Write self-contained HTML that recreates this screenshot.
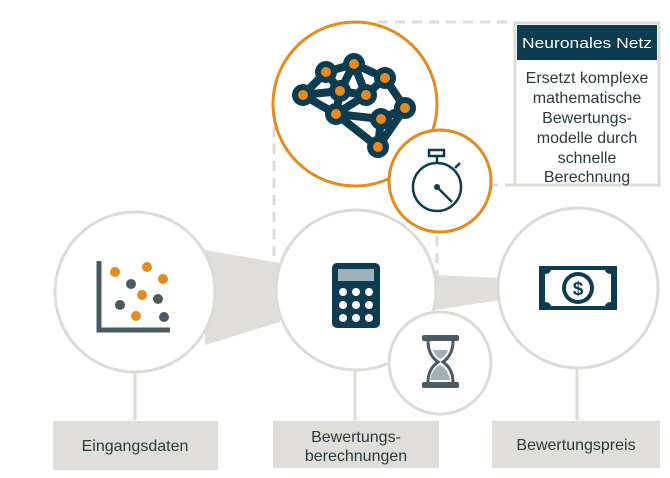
<!DOCTYPE html>
<html><head><meta charset="utf-8"><style>
html,body{margin:0;padding:0;background:#fff;width:670px;height:478px;overflow:hidden}
svg{display:block}
text{font-family:"Liberation Sans",sans-serif}
</style></head><body>
<svg width="670" height="478" viewBox="0 0 670 478">
<g stroke="#dcdcd6" stroke-width="3" stroke-dasharray="10,7" fill="none">
<line x1="378" y1="22" x2="515" y2="22"/>
<line x1="274" y1="127" x2="274" y2="262"/>
<line x1="437" y1="185" x2="515" y2="185"/>
<line x1="437" y1="185" x2="437" y2="275"/>
</g>
<polygon points="205,250 280,263 280,322 205,345" fill="#e0ded8"/>
<polygon points="435,275 500,278 500,300 435,310" fill="#e0ded8"/>
<g stroke="#dcdcd6" stroke-width="3">
<line x1="135" y1="368" x2="135" y2="420"/>
<line x1="355" y1="368" x2="355" y2="420"/>
<line x1="577" y1="366" x2="577" y2="420"/>
</g>
<g fill="#fff" stroke="#dcdcd6" stroke-width="3">
<circle cx="135" cy="292" r="80"/>
<circle cx="356" cy="290" r="80"/>
<circle cx="578" cy="288" r="80"/>
<circle cx="440" cy="363" r="51"/>
</g>
<circle cx="355" cy="104" r="82" fill="#fff" stroke="#e58a1f" stroke-width="3"/>
<circle cx="440" cy="181" r="51" fill="#fff" stroke="#e58a1f" stroke-width="3"/>
<rect x="515" y="23" width="144" height="162" fill="#fff" stroke="#dcdcd6" stroke-width="3"/>
<rect x="517" y="25" width="140" height="35" fill="#0d3b4f"/>
<text x="587" y="48" font-size="15" fill="#fff" text-anchor="middle" textLength="130" lengthAdjust="spacingAndGlyphs">Neuronales Netz</text>
<g font-size="16" fill="#2a3a42" text-anchor="middle">
<text x="587" y="83">Ersetzt komplexe</text>
<text x="587" y="103">mathematische</text>
<text x="587" y="123">Bewertungs-</text>
<text x="587" y="143">modelle durch</text>
<text x="587" y="163">schnelle</text>
<text x="587" y="182">Berechnung</text>
</g>
<rect x="53" y="421" width="165" height="49" fill="#e0ded8"/>
<rect x="273" y="421" width="166" height="47" fill="#e0ded8"/>
<rect x="492" y="421" width="168" height="47" fill="#e0ded8"/>
<g font-size="16" fill="#2a3a42" text-anchor="middle">
<text x="135" y="451">Eingangsdaten</text>
<text x="356" y="442">Bewertungs-</text>
<text x="356" y="461">berechnungen</text>
<text x="576" y="450">Bewertungspreis</text>
</g>
<path d="M99,261 V330 H170" stroke="#4a5a62" stroke-width="5" fill="none"/>
<g fill="#e58a1f"><circle cx="115" cy="272" r="5"/><circle cx="147" cy="267" r="5"/><circle cx="163" cy="279" r="5"/><circle cx="142" cy="295" r="5"/><circle cx="136" cy="316" r="5"/></g>
<g fill="#4a5a62"><circle cx="131" cy="284" r="5"/><circle cx="158" cy="299" r="5"/><circle cx="120" cy="305" r="5"/><circle cx="164" cy="317" r="5"/></g>
<rect x="332" y="263" width="48" height="65" rx="5" fill="#0d3b4f"/>
<rect x="338" y="269" width="36" height="12" fill="#9fb0b8"/>
<g fill="#fff">
<circle cx="343" cy="292" r="4"/><circle cx="356" cy="292" r="4"/><circle cx="369" cy="292" r="4"/>
<circle cx="343" cy="305" r="4"/><circle cx="356" cy="305" r="4"/><circle cx="369" cy="305" r="4"/>
<circle cx="343" cy="318" r="4"/><circle cx="356" cy="318" r="4"/><circle cx="369" cy="318" r="4"/>
</g>
<rect x="539" y="266" width="78" height="44" fill="#0d3b4f"/>
<path d="M545,274 q5,0 6,-4 h54 q1,4 6,4 v28 q-5,0 -6,4 h-54 q-1,-4 -6,-4 z" fill="#fff"/>
<circle cx="578" cy="288" r="16" fill="#0d3b4f"/>
<circle cx="578" cy="288" r="12" fill="#fff"/>
<text x="578" y="295" font-size="19" font-weight="bold" fill="#0d3b4f" text-anchor="middle">$</text>
<rect x="422" y="335" width="37" height="6" rx="2" fill="#4a5a62"/>
<rect x="422" y="382" width="37" height="6" rx="2" fill="#4a5a62"/>
<path d="M428,341 q0,14 10,21 q-10,7 -10,20 M453,341 q0,14 -10,21 q10,7 10,20" stroke="#4a5a62" stroke-width="3" fill="none"/>
<path d="M430,380 q2,-11 10,-15 q8,4 10,15 z" fill="#9fb0b8"/>
<path d="M433,350 h15 q-2,6 -7.5,9 q-5.5,-3 -7.5,-9z" fill="#9fb0b8"/>
<g stroke="#0d3b4f" stroke-width="8" stroke-linecap="round" stroke-linejoin="round" fill="none">
<path d="M303,95 L326,72 L354,64 L385,78 L405,108 L378,147 L336,114 L303,95 L340,91 L326,72 M354,64 L340,91 L336,114 M354,64 L366,95 L340,91 M366,95 L336,114 L381,119 L405,108 M381,119 L378,147 M385,78 L366,95 M303,95 L336,114"/>
</g>
<g fill="#0d3b4f"><circle cx="326" cy="72" r="11"/><circle cx="354" cy="64" r="11"/><circle cx="385" cy="78" r="11"/><circle cx="303" cy="95" r="11"/><circle cx="340" cy="91" r="11"/><circle cx="366" cy="95" r="11"/><circle cx="336" cy="114" r="11"/><circle cx="381" cy="119" r="11"/><circle cx="405" cy="108" r="11"/><circle cx="378" cy="147" r="11"/></g>
<g fill="#e58a1f"><circle cx="326" cy="72" r="5"/><circle cx="354" cy="64" r="5"/><circle cx="385" cy="78" r="5"/><circle cx="303" cy="95" r="5"/><circle cx="340" cy="91" r="5"/><circle cx="366" cy="95" r="5"/><circle cx="336" cy="114" r="5"/><circle cx="381" cy="119" r="5"/><circle cx="405" cy="108" r="5"/><circle cx="378" cy="147" r="5"/></g>
<g stroke="#0d3b4f" stroke-width="2.5" fill="none">
<circle cx="437" cy="187" r="24"/>
<rect x="429" y="150" width="15" height="6"/>
<line x1="437" y1="156" x2="437" y2="163"/>
<line x1="455" y1="168" x2="460" y2="163"/>
<line x1="437" y1="187" x2="452" y2="202"/>
</g>
<circle cx="437" cy="187" r="3" fill="#0d3b4f"/>
</svg>
</body></html>
